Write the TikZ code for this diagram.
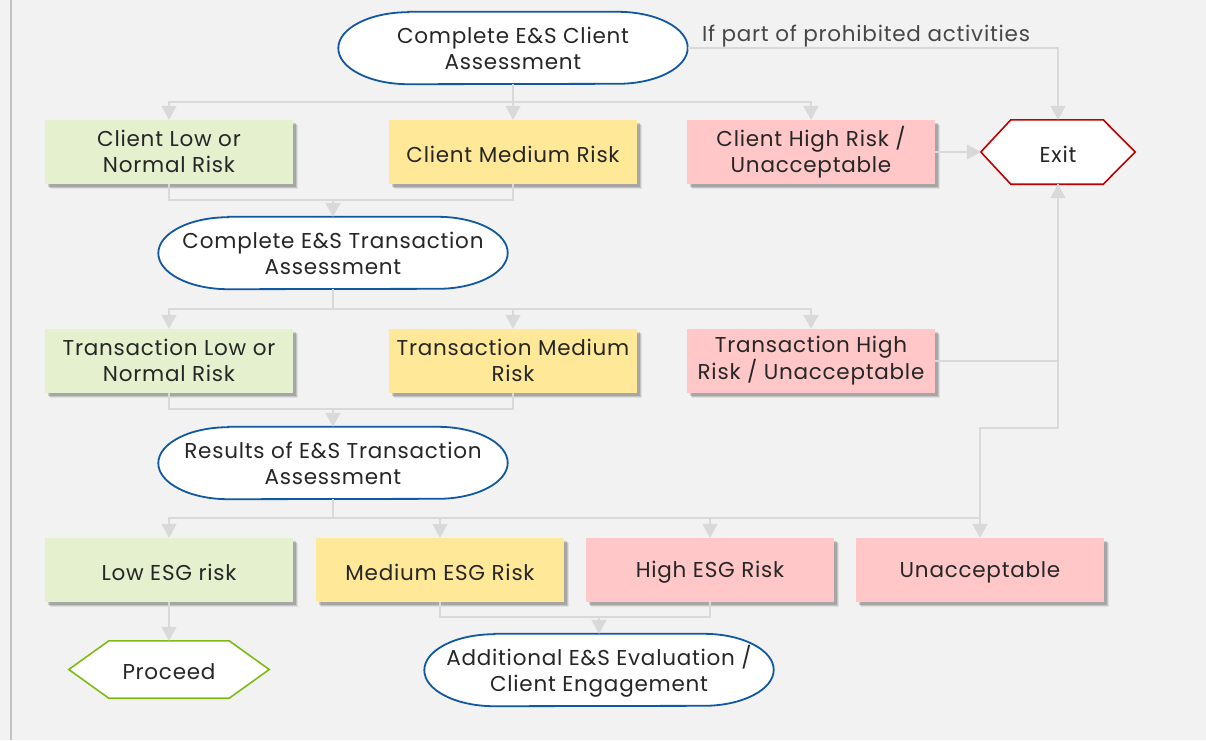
\documentclass[tikz,border=0pt]{standalone}
\usepackage{fontspec}
\setmainfont{Poppins}[LetterSpace=3.5]
\usetikzlibrary{arrows.meta,shadows,backgrounds}
\definecolor{bgc}{RGB}{242,242,242}
\definecolor{linec}{RGB}{217,217,217}
\definecolor{greenf}{RGB}{228,240,206}
\definecolor{yellowf}{RGB}{255,233,153}
\definecolor{pinkf}{RGB}{255,199,199}
\definecolor{bluee}{RGB}{16,88,160}
\definecolor{redh}{RGB}{192,0,0}
\definecolor{greenh}{RGB}{125,187,18}
\definecolor{txt}{RGB}{38,38,38}
\newcommand{\tstrut}{\rule[-1pt]{0pt}{22pt}}
\tikzset{
  basefont/.style={font=\fontsize{21.5}{26}\selectfont, text=txt, execute at begin node=\tstrut, execute at end node=\tstrut},
  box/.style={basefont, rectangle, minimum width=248pt, minimum height=64pt, inner sep=0pt, align=center,
    drop shadow={shadow xshift=5pt, shadow yshift=-5pt, fill=black, opacity=0.07},
    drop shadow={shadow xshift=4pt, shadow yshift=-4pt, fill=black, opacity=0.12},
    drop shadow={shadow xshift=2.5pt, shadow yshift=-2.5pt, fill=black, opacity=0.15}},
  greenbox/.style={box, fill=greenf},
  yellowbox/.style={box, fill=yellowf},
  pinkbox/.style={box, fill=pinkf},
  ovalframe/.style={rectangle, minimum width=349pt, minimum height=72pt, inner sep=0pt},
  ovaltext/.style={basefont, inner sep=0pt, align=center},
  ovalline/.style={draw=bluee, line width=1.8pt, fill=white},
  hexnode/.style={basefont, rectangle, inner sep=0pt, align=center},
  conn/.style={draw=linec, line width=1.6pt},
  arr/.style={conn, -{Triangle[width=15pt,length=14pt]}},
  lbl/.style={basefont, text=txt!85, inner sep=0pt},
}
\newcommand{\ovalpath}[1]{%
  \draw[ovalline] ([xshift=70pt]#1.north west) -- ([xshift=-70pt]#1.north east)
    arc[start angle=90, end angle=-90, x radius=70pt, y radius=36pt]
    -- ([xshift=70pt]#1.south west)
    arc[start angle=270, end angle=90, x radius=70pt, y radius=36pt] -- cycle;}
\begin{document}
\begin{tikzpicture}[x=1pt,y=-1pt]
\begin{scope}[on background layer]
\fill[bgc] (0,0) rectangle (1206,740);
\end{scope}
\useasboundingbox (0,0) rectangle (1206,740);
\coordinate (lt) at (11,0);
\coordinate (lb) at (11,740);
\draw[draw=linec!90!black, line width=2pt] (lt) -- (lb);

% oval frames
\node[ovalframe] (e1) at (513,48) {};
\node[ovalframe] (e2) at (333,253) {};
\node[ovalframe] (e3) at (333,463) {};
\node[ovalframe] (e4) at (599,670) {};
\begin{scope}[on background layer]
\ovalpath{e1}\ovalpath{e2}\ovalpath{e3}\ovalpath{e4}
\end{scope}
\node[ovaltext] (e1t) at ([yshift=-1pt]e1.center) {Complete E\&S Client\\Assessment};
\node[ovaltext] (e2t) at ([yshift=-1pt]e2.center) {Complete E\&S Transaction\\Assessment};
\node[ovaltext] (e3t) at ([yshift=-1pt]e3.center) {Results of E\&S Transaction\\Assessment};
\node[ovaltext] (e4t) at ([yshift=-1pt]e4.center) {Additional E\&S Evaluation /\\Client Engagement};

\node[lbl] (lab) at (866,34) {If part of prohibited activities};

% row 1
\node[greenbox] (c1) at (169,152) {Client Low or\\Normal Risk};
\node[yellowbox] (c2) at (513,152) {Client Medium Risk};
\node[pinkbox] (c3) at (811,152) {Client High Risk /\\Unacceptable};
\node[hexnode, minimum width=154pt, minimum height=64pt] (exit) at (1058,152) {Exit};

% row 2
\node[greenbox] (t1) at (169,361) {Transaction Low or\\Normal Risk};
\node[yellowbox] (t2) at (513,361) {Transaction Medium\\Risk};
\node[pinkbox] (t3) at (811,361) {Transaction High\\Risk / Unacceptable};

% row 3
\node[greenbox] (r1) at (169,570) {Low ESG risk};
\node[yellowbox] (r2) at (440,570) {Medium ESG Risk};
\node[pinkbox] (r3) at (710,570) {High ESG Risk};
\node[pinkbox] (r4) at (980,570) {Unacceptable};

\node[hexnode, minimum width=200pt, minimum height=57pt] (proc) at (169,669.5) {Proceed};

% hexagons
\begin{scope}[on background layer]
\draw[draw=redh, line width=1.6pt, fill=white, line join=miter]
  (exit.west) -- ([xshift=30pt]exit.north west) -- ([xshift=-32pt]exit.north east) -- (exit.east)
  -- ([xshift=-32pt]exit.south east) -- ([xshift=30pt]exit.south west) -- cycle;
\draw[draw=greenh, line width=1.6pt, fill=white, line join=miter]
  (proc.west) -- ([xshift=40pt]proc.north west) -- ([xshift=-40pt]proc.north east) -- (proc.east)
  -- ([xshift=-40pt]proc.south east) -- ([xshift=40pt]proc.south west) -- cycle;
\end{scope}

% connectors
\coordinate (j1) at (513,102);
\draw[conn] (e1.south) -- (j1);
\draw[arr] (j1) -| (c1.north);
\draw[arr] (j1) -- (c2.north);
\draw[arr] (j1) -| (c3.north);
\draw[arr] (e1.east) -| (exit.north);
\draw[arr] (c3.east) -- (exit.west);

\coordinate (m1) at (333,200);
\draw[conn] (c1.south) |- (c2.south |- m1) -- (c2.south);
\draw[arr] (m1) -- (e2.north);

\coordinate (j2) at (333,309);
\draw[conn] (e2.south) -- (j2);
\draw[arr] (j2) -| (t1.north);
\draw[arr] (j2) -| (t2.north);
\draw[arr] (j2) -| (t3.north);
\draw[arr] (t3.east) -| (exit.south);

\coordinate (m2) at (333,409);
\draw[conn] (t1.south) |- (t2.south |- m2) -- (t2.south);
\draw[arr] (m2) -- (e3.north);

\coordinate (j3) at (333,518);
\draw[conn] (e3.south) -- (j3);
\draw[arr] (j3) -| (r1.north);
\draw[arr] (j3) -| (r2.north);
\draw[arr] (j3) -| (r3.north);
\draw[arr] (j3) -| (r4.north);
\coordinate (u1) at (980,428);
\draw[conn] (j3 -| r4.north) -- (u1) -| (exit.south);

\draw[arr] (r1.south) -- (proc.north);
\coordinate (m3) at (599,617);
\draw[conn] (r2.south) |- (r3.south |- m3) -- (r3.south);
\draw[arr] (m3) -- (e4.north);
\end{tikzpicture}
\end{document}
